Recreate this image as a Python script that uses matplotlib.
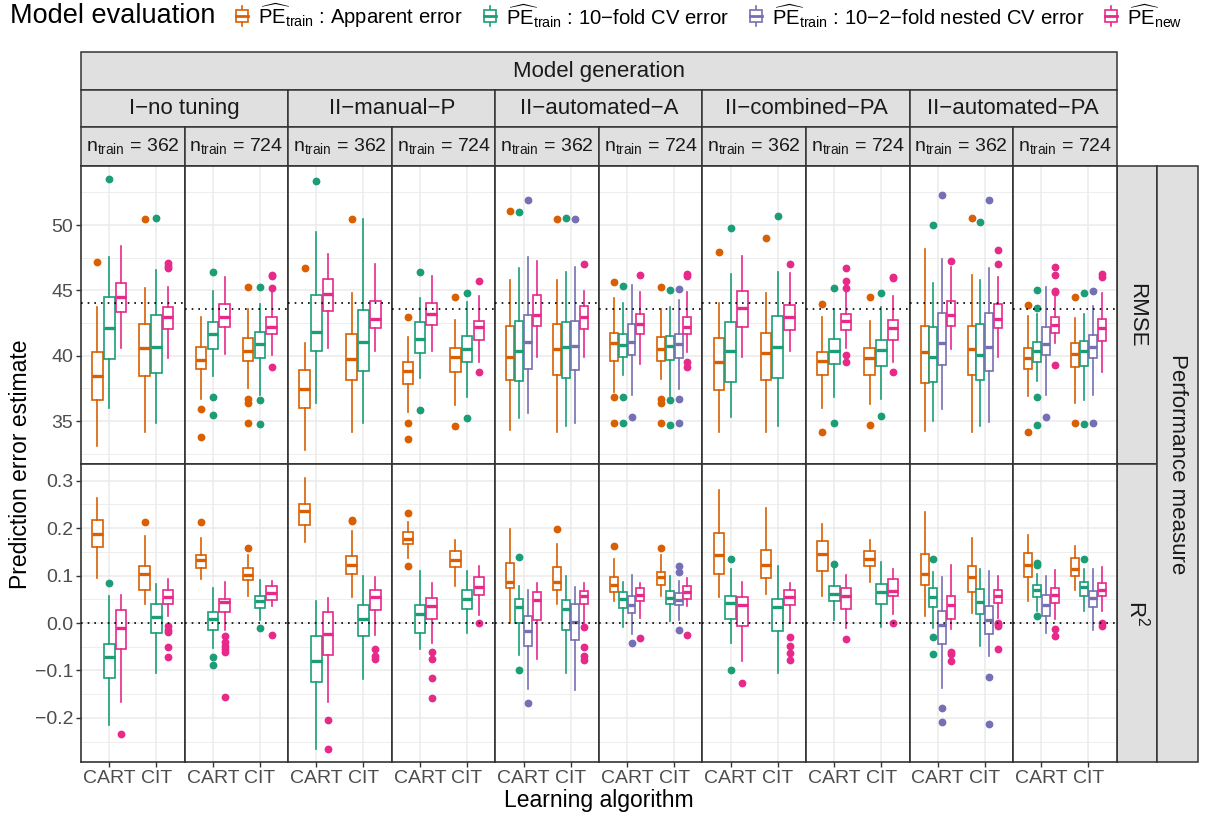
import matplotlib
matplotlib.use("Agg")
import matplotlib.pyplot as plt
from matplotlib.patches import Rectangle
from matplotlib.lines import Line2D

plt.rcParams["font.family"] = ["Liberation Sans", "DejaVu Sans"]
plt.rcParams["mathtext.fontset"] = "custom"
plt.rcParams["mathtext.rm"] = "Liberation Sans"
plt.rcParams["mathtext.it"] = "Liberation Sans:italic"
plt.rcParams["mathtext.bf"] = "Liberation Sans:bold"

# ---------------------------------------------------------------- data
MODELS = ["I\u2212no tuning", "II\u2212manual\u2212P", "II\u2212automated\u2212A",
          "II\u2212combined\u2212PA", "II\u2212automated\u2212PA"]
MODEL_KEYS = ["notune", "manual_p", "auto_a", "comb_pa", "auto_pa"]
N_TRAIN = [362, 724]
ALGORITHMS = ["CART", "CIT"]
EVAL_KEYS = ["apparent", "cv", "nested", "new"]
PE_TRAIN = "$\\widehat{\\mathrm{PE}}_{\\mathrm{train}}$"
EVAL_LABELS = [
    PE_TRAIN + " : Apparent error",
    PE_TRAIN + " : 10\u2212fold CV error",
    PE_TRAIN + " : 10\u22122\u2212fold nested CV error",
    "$\\widehat{\\mathrm{PE}}_{\\mathrm{new}}$",
]
EVAL_COLORS = ["#D95F02", "#1B9E77", "#7570B3", "#E7298A"]
MODEL_EVALS = {
    "notune": ["apparent", "cv", "new"],
    "manual_p": ["apparent", "cv", "new"],
    "auto_a": ["apparent", "cv", "nested", "new"],
    "comb_pa": ["apparent", "cv", "new"],
    "auto_pa": ["apparent", "cv", "nested", "new"],
}
# reference (true) performance per training size
REF_RMSE = {362: 44.0, 724: 43.55}
REF_R2 = {362: 0.0, 724: 0.0}

# Box summaries: (lower whisker, Q1, median, Q3, upper whisker).
# CART boxes first, then CIT, each in the evaluation order of the model.
rmse_notune_362 = [
    (33.11, 36.61, 38.47, 40.26, 43.72), (35.97, 39.74, 42.09, 44.52, 47.53),
    (40.56, 43.32, 44.46, 45.54, 48.39),
    (34.18, 38.47, 40.56, 42.40, 45.20), (34.82, 38.65, 40.69, 43.09, 46.56),
    (39.85, 42.04, 42.93, 43.75, 45.23)]
rmse_notune_362_out = [[47.19], [53.52], [], [50.46], [50.51], [47.07, 46.86, 46.68]]

rmse_notune_724 = [
    (36.68, 38.95, 39.67, 40.64, 42.93), (38.44, 40.51, 41.66, 42.60, 44.95),
    (40.13, 42.17, 42.98, 43.93, 46.05),
    (37.50, 39.62, 40.38, 41.38, 43.57), (36.99, 39.85, 40.89, 41.81, 43.95),
    (40.05, 41.66, 42.22, 42.98, 44.85)]
rmse_notune_724_out = [[35.92, 33.78], [46.38, 36.84, 35.48], [],
                       [45.28, 36.68, 36.35, 34.85], [45.23, 36.61, 34.74],
                       [46.17, 46.12, 45.15, 39.16]]

rmse_manual_p_362 = [
    (32.78, 35.97, 37.47, 38.90, 40.99), (36.35, 40.38, 41.81, 44.62, 49.49),
    (40.61, 43.42, 44.69, 45.87, 47.76),
    (34.18, 38.14, 39.72, 41.63, 44.77), (34.82, 38.83, 41.07, 43.49, 50.43),
    (40.38, 42.09, 42.81, 44.18, 46.99)]
rmse_manual_p_362_out = [[46.73], [53.39], [], [50.43], [], []]

rmse_manual_p_724 = [
    (35.71, 37.83, 38.80, 39.52, 41.45), (38.32, 40.23, 41.30, 42.60, 44.44),
    (40.38, 42.37, 43.19, 44.00, 46.12),
    (36.22, 38.75, 39.87, 40.61, 42.70), (36.81, 39.52, 40.54, 41.53, 44.08),
    (39.49, 41.17, 42.17, 42.65, 44.59)]
rmse_manual_p_724_out = [[42.98, 34.87, 33.65], [46.38, 35.82], [],
                         [44.46, 34.64], [44.82, 35.26], [45.71, 38.75]]

rmse_auto_a_362 = [
    (34.31, 38.14, 39.92, 42.27, 45.79), (35.26, 38.04, 40.36, 42.65, 46.73),
    (35.59, 38.95, 41.05, 43.11, 47.53), (39.92, 42.30, 43.09, 44.64, 47.24),
    (34.18, 38.49, 40.54, 42.45, 45.79), (34.64, 38.27, 40.64, 42.55, 46.43),
    (34.87, 38.90, 40.74, 42.68, 46.81), (39.92, 42.04, 42.98, 43.83, 44.95)]
rmse_auto_a_362_out = [[51.10], [51.02], [51.94], [],
                       [50.46], [50.51], [50.46], [46.99]]

rmse_auto_a_724 = [
    (37.20, 39.62, 40.94, 41.71, 44.39), (38.49, 39.92, 40.82, 41.68, 44.06),
    (36.99, 40.05, 41.02, 42.45, 45.41), (39.36, 41.66, 42.40, 43.21, 44.85),
    (38.19, 39.62, 40.54, 41.40, 43.57), (36.91, 39.67, 40.74, 41.53, 43.70),
    (37.42, 39.85, 40.87, 41.68, 44.26), (40.31, 41.68, 42.17, 42.98, 44.85)]
rmse_auto_a_724_out = [[45.66, 36.86, 34.87], [45.36, 36.81, 34.82], [35.33], [46.17],
                       [45.28, 36.68, 36.35, 34.85], [45.03, 36.61, 34.69],
                       [45.10, 36.66, 34.85], [46.22, 46.10, 39.54, 39.16]]

rmse_comb_pa_362 = [
    (34.13, 37.37, 39.49, 41.33, 44.01), (35.33, 38.01, 40.36, 42.55, 46.25),
    (39.92, 42.22, 43.62, 44.95, 47.65),
    (34.18, 38.11, 40.23, 41.76, 44.77), (34.64, 38.27, 40.64, 43.04, 46.43),
    (40.38, 41.96, 42.93, 43.85, 46.30)]
rmse_comb_pa_362_out = [[47.96], [49.80], [], [48.98], [50.69], [47.02]]

rmse_comb_pa_724 = [
    (35.97, 38.49, 39.59, 40.28, 42.98), (36.81, 39.36, 40.36, 41.30, 43.57),
    (40.56, 41.96, 42.65, 43.16, 44.95),
    (36.28, 38.52, 39.85, 40.61, 42.68), (36.66, 39.23, 40.43, 41.17, 43.75),
    (39.49, 41.17, 42.14, 42.70, 44.54)]
rmse_comb_pa_724_out = [[43.98, 34.18], [45.15, 34.82], [46.68, 45.71, 45.20, 40.05, 39.54],
                        [44.46, 34.69], [44.82, 35.41], [46.05, 45.92, 38.75]]

rmse_auto_pa_362 = [
    (34.26, 37.88, 40.31, 42.30, 48.14), (35.00, 37.96, 39.92, 42.17, 45.54),
    (35.89, 39.26, 40.99, 43.24, 47.37), (40.48, 42.30, 43.11, 44.21, 46.81),
    (34.18, 38.52, 40.48, 42.30, 46.17), (34.64, 38.14, 40.05, 42.40, 45.79),
    (34.95, 38.83, 40.64, 43.29, 46.68), (39.87, 42.09, 42.81, 43.93, 46.05)]
rmse_auto_pa_362_out = [[], [50.00], [52.30], [47.24],
                        [50.51], [50.26], [51.91], [48.09, 46.99]]

rmse_auto_pa_724 = [
    (36.91, 38.95, 39.80, 40.61, 43.04), (38.06, 39.52, 40.36, 41.07, 43.19),
    (36.99, 40.05, 40.89, 42.22, 45.28), (40.94, 41.71, 42.35, 42.98, 44.51),
    (36.35, 39.10, 40.10, 40.99, 42.91), (36.61, 39.23, 40.36, 41.12, 43.16),
    (36.99, 39.80, 40.69, 41.58, 43.83), (38.78, 41.12, 42.09, 42.78, 44.82)]
rmse_auto_pa_724_out = [[43.88, 34.18], [45.03, 43.62, 36.81, 34.69], [35.28],
                        [46.76, 46.17, 44.97, 44.90, 39.31],
                        [44.46, 34.87], [44.82, 34.74], [44.95, 34.82], [46.25, 46.05]]

r2_notune_362 = [
    (0.094, 0.161, 0.187, 0.217, 0.263), (-0.215, -0.115, -0.072, -0.045, 0.058),
    (-0.167, -0.054, -0.011, 0.028, 0.060),
    (0.040, 0.070, 0.104, 0.120, 0.183), (-0.106, -0.021, 0.013, 0.041, 0.082),
    (0.015, 0.040, 0.054, 0.069, 0.093)]
r2_notune_362_out = [[], [0.084], [-0.234], [0.213], [],
                     [-0.007, -0.014, -0.019, -0.051, -0.072]]

r2_notune_724 = [
    (0.093, 0.115, 0.132, 0.144, 0.180), (-0.053, -0.014, 0.009, 0.023, 0.074),
    (-0.015, 0.023, 0.044, 0.051, 0.087),
    (0.058, 0.090, 0.102, 0.115, 0.143), (0.007, 0.031, 0.046, 0.058, 0.090),
    (0.035, 0.049, 0.063, 0.077, 0.088)]
r2_notune_724_out = [[0.213], [-0.072, -0.088],
                     [-0.028, -0.039, -0.048, -0.054, -0.061, -0.157],
                     [0.158], [-0.011], [-0.025]]

r2_manual_p_362 = [
    (0.170, 0.206, 0.236, 0.252, 0.306), (-0.265, -0.125, -0.080, -0.028, 0.047),
    (-0.167, -0.067, -0.023, 0.023, 0.053),
    (0.054, 0.104, 0.123, 0.142, 0.194), (-0.118, -0.027, 0.008, 0.039, 0.100),
    (-0.026, 0.027, 0.054, 0.070, 0.096)]
r2_manual_p_362_out = [[], [], [-0.204, -0.265], [0.215, 0.218], [],
                       [-0.054, -0.070, -0.075]]

r2_manual_p_724 = [
    (0.137, 0.167, 0.178, 0.192, 0.213), (-0.054, -0.022, 0.019, 0.037, 0.109),
    (-0.042, 0.008, 0.035, 0.053, 0.085),
    (0.079, 0.118, 0.133, 0.151, 0.176), (-0.021, 0.030, 0.051, 0.070, 0.109),
    (0.016, 0.059, 0.075, 0.096, 0.120)]
r2_manual_p_724_out = [[0.231, 0.120], [], [-0.061, -0.075, -0.116, -0.158],
                       [], [], [-0.001]]

r2_auto_a_362 = [
    (0.001, 0.073, 0.086, 0.127, 0.199), (-0.067, -0.001, 0.033, 0.051, 0.079),
    (-0.139, -0.048, -0.016, 0.014, 0.070), (-0.075, 0.007, 0.049, 0.065, 0.085),
    (0.040, 0.070, 0.086, 0.118, 0.167), (-0.106, -0.014, 0.030, 0.049, 0.100),
    (-0.141, -0.035, 0.002, 0.041, 0.076), (-0.002, 0.040, 0.056, 0.068, 0.085)]
r2_auto_a_362_out = [[], [0.139, -0.099], [-0.168], [],
                     [0.199], [], [], [-0.008, -0.051, -0.070, -0.077]]

r2_auto_a_724 = [
    (0.046, 0.065, 0.080, 0.097, 0.135), (-0.008, 0.032, 0.051, 0.065, 0.087),
    (-0.023, 0.021, 0.037, 0.056, 0.101), (0.011, 0.046, 0.060, 0.074, 0.085),
    (0.058, 0.081, 0.096, 0.108, 0.144), (0.004, 0.041, 0.053, 0.068, 0.100),
    (0.007, 0.037, 0.049, 0.063, 0.088), (0.035, 0.051, 0.065, 0.077, 0.094)]
r2_auto_a_724_out = [[0.162], [], [-0.042], [-0.032],
                     [0.158], [], [0.120, 0.107, -0.015], [-0.025]]

r2_comb_pa_362 = [
    (0.054, 0.104, 0.144, 0.189, 0.280), (-0.042, 0.009, 0.042, 0.058, 0.113),
    (-0.081, -0.007, 0.039, 0.054, 0.086),
    (0.062, 0.095, 0.122, 0.155, 0.243), (-0.106, -0.016, 0.033, 0.051, 0.121),
    (0.000, 0.037, 0.054, 0.069, 0.085)]
r2_comb_pa_362_out = [[], [0.136, -0.099], [-0.127], [], [],
                      [-0.030, -0.048, -0.063, -0.077]]

r2_comb_pa_724 = [
    (0.058, 0.109, 0.146, 0.173, 0.208), (0.007, 0.047, 0.061, 0.079, 0.116),
    (-0.010, 0.030, 0.058, 0.074, 0.102),
    (0.086, 0.120, 0.134, 0.151, 0.176), (-0.008, 0.041, 0.065, 0.083, 0.128),
    (0.018, 0.056, 0.068, 0.093, 0.113)]
r2_comb_pa_724_out = [[], [0.125], [-0.034], [], [], [0.000]]

r2_auto_pa_362 = [
    (0.014, 0.081, 0.104, 0.146, 0.235), (-0.011, 0.034, 0.054, 0.074, 0.108),
    (-0.137, -0.044, -0.005, 0.025, 0.097), (-0.013, 0.009, 0.037, 0.058, 0.122),
    (0.021, 0.065, 0.096, 0.120, 0.180), (-0.049, 0.018, 0.044, 0.072, 0.114),
    (-0.069, -0.023, 0.006, 0.035, 0.109), (0.010, 0.042, 0.056, 0.069, 0.100)]
r2_auto_pa_362_out = [[], [0.136, -0.030, -0.065], [-0.180, -0.209],
                      [-0.062, -0.065, -0.080],
                      [], [], [-0.114, -0.213], [0.000, -0.003, -0.006, -0.054]]

r2_auto_pa_724 = [
    (0.046, 0.096, 0.123, 0.148, 0.185), (0.025, 0.055, 0.069, 0.080, 0.104),
    (-0.021, 0.014, 0.037, 0.060, 0.100), (0.008, 0.042, 0.060, 0.074, 0.111),
    (0.069, 0.099, 0.113, 0.137, 0.162), (0.025, 0.056, 0.076, 0.087, 0.114),
    (-0.015, 0.033, 0.053, 0.068, 0.113), (0.025, 0.056, 0.070, 0.085, 0.118)]
r2_auto_pa_724_out = [[], [0.127, 0.122, 0.014], [], [-0.013, -0.028],
                      [], [0.134], [], [0.000, -0.006]]

MEASURES = ["rmse", "r2"]
MEASURE_LABELS = ["RMSE", "R$^{2}$"]
Y_TICKS = {"rmse": [35, 40, 45, 50],
           "r2": [-0.2, -0.1, 0.0, 0.1, 0.2, 0.3]}
Y_MINOR = {"rmse": [32.5, 37.5, 42.5, 47.5, 52.5],
           "r2": [-0.25, -0.15, -0.05, 0.05, 0.15, 0.25]}
Y_LIMS = {"rmse": (31.71, 54.54), "r2": (-0.2937, 0.3353)}
REF_LINES = {"rmse": REF_RMSE, "r2": REF_R2}


def box_data(measure, model, n):
    g = globals()
    return g[f"{measure}_{model}_{n}"], g[f"{measure}_{model}_{n}_out"]


def fmt_tick(v, measure):
    if measure == "rmse":
        return f"{v:.0f}"
    return f"{v:.1f}".replace("-", "\u2212")


# ---------------------------------------------------------------- layout (pixels)
W, H = 1206, 819
PX0, PX1 = 81.0, 1116.7
PW = (PX1 - PX0) / 10
ROWS = [(165.7, 464.0), (464.0, 762.3)]
STRIP_ROWS = [(52.3, 90.0), (90.0, 127.3), (127.3, 165.7)]
RSTRIP = [(1116.7, 1157.3), (1157.3, 1198.3)]

GRID = "#EBEBEB"
FRAME = "#333333"
STRIP_FILL = "#E0E0E0"
TXT = "#1A1A1A"
TICK_TXT = "#4D4D4D"

fig = plt.figure(figsize=(W / 100, H / 100), dpi=100)

canvas = fig.add_axes([0, 0, 1, 1])
canvas.set_xlim(0, W)
canvas.set_ylim(H, 0)
canvas.axis("off")


def px_axes(x0, y0, x1, y1):
    return fig.add_axes([x0 / W, 1 - y1 / H, (x1 - x0) / W, (y1 - y0) / H])


def strip(x0, y0, x1, y1, text, size, rotation=0):
    canvas.add_patch(Rectangle((x0, y0), x1 - x0, y1 - y0, facecolor=STRIP_FILL,
                               edgecolor=FRAME, linewidth=1.1))
    canvas.text((x0 + x1) / 2, (y0 + y1) / 2, text, ha="center", va="center",
                fontsize=size, color=TXT, rotation=rotation)


# facet strips on top
strip(PX0, STRIP_ROWS[0][0], PX1, STRIP_ROWS[0][1], "Model generation", 16)
for m, name in enumerate(MODELS):
    strip(PX0 + 2 * m * PW, STRIP_ROWS[1][0], PX0 + (2 * m + 2) * PW, STRIP_ROWS[1][1],
          name, 16)
    for j, n in enumerate(N_TRAIN):
        c = 2 * m + j
        strip(PX0 + c * PW, STRIP_ROWS[2][0], PX0 + (c + 1) * PW, STRIP_ROWS[2][1],
              "$\\mathrm{n}_{\\mathrm{train}}$ = " + str(n), 14)

# facet strips on the right
for r, lab in enumerate(MEASURE_LABELS):
    strip(RSTRIP[0][0], ROWS[r][0], RSTRIP[0][1], ROWS[r][1], lab, 16, rotation=-90)
strip(RSTRIP[1][0], ROWS[0][0], RSTRIP[1][1], ROWS[1][1], "Performance measure", 16,
      rotation=-90)

# panels
for r, measure in enumerate(MEASURES):
    y0, y1 = ROWS[r]
    for m, model in enumerate(MODEL_KEYS):
        evals = MODEL_EVALS[model]
        k = len(evals)
        slot = 0.75 / k
        for j, n in enumerate(N_TRAIN):
            c = 2 * m + j
            ax = px_axes(PX0 + c * PW, y0, PX0 + (c + 1) * PW, y1)
            ax.set_facecolor("white")
            stats, outs = box_data(measure, model, n)
            for a in range(len(ALGORITHMS)):
                for e, ev in enumerate(evals):
                    idx = a * k + e
                    lo, q1, med, q3, hi = stats[idx]
                    col = EVAL_COLORS[EVAL_KEYS.index(ev)]
                    pos = (a + 1) - 0.375 + slot * (e + 0.5)
                    ax.bxp([dict(whislo=lo, q1=q1, med=med, q3=q3, whishi=hi,
                                 fliers=outs[idx])],
                           positions=[pos], widths=slot * 0.9, patch_artist=True,
                           showcaps=False, showfliers=True, manage_ticks=False,
                           boxprops=dict(facecolor="white", edgecolor=col, linewidth=1.2),
                           whiskerprops=dict(color=col, linewidth=1.2),
                           medianprops=dict(color=col, linewidth=2.4, solid_capstyle="butt"),
                           flierprops=dict(marker="o", markerfacecolor=col,
                                           markeredgecolor=col, markersize=4.6,
                                           linestyle="none"))
            ax.axhline(REF_LINES[measure][n], color="black", linewidth=1.2,
                       linestyle=(0, (1, 3)), zorder=5)
            ax.set_xlim(0.4, 2.6)
            ax.set_ylim(*Y_LIMS[measure])
            ax.set_xticks([1, 2])
            ax.set_yticks(Y_TICKS[measure])
            ax.set_yticks(Y_MINOR[measure], minor=True)
            ax.grid(which="major", color=GRID, linewidth=1.1)
            ax.grid(which="minor", axis="y", color=GRID, linewidth=0.6)
            ax.set_axisbelow(True)
            for sp in ax.spines.values():
                sp.set_color(FRAME)
                sp.set_linewidth(1.2)
            ax.tick_params(which="minor", length=0)
            ax.tick_params(which="major", color=FRAME, width=1.0, length=3.5,
                           labelcolor=TICK_TXT, labelsize=14, pad=2)
            if c == 0:
                ax.set_yticklabels([fmt_tick(v, measure) for v in Y_TICKS[measure]])
            else:
                ax.tick_params(axis="y", length=0, labelleft=False)
            if r == 1:
                ax.set_xticklabels(ALGORITHMS)
            else:
                ax.tick_params(axis="x", length=0, labelbottom=False)

# axis titles
canvas.text((PX0 + PX1) / 2, 801, "Learning algorithm", ha="center", va="center",
            fontsize=16.5, color="black")
canvas.text(21, (ROWS[0][0] + ROWS[1][1]) / 2, "Prediction error estimate", ha="center",
            va="center", rotation=90, fontsize=16.5, color="black")

# legend across the top, laid out left to right
renderer = fig.canvas.get_renderer()
LY = 16
title = canvas.text(10, LY, "Model evaluation", ha="left", va="center", fontsize=19.5,
                    color="black")
x_end = title.get_window_extent(renderer).x1
for lab, col in zip(EVAL_LABELS, EVAL_COLORS):
    kx = x_end + 27
    canvas.add_line(Line2D([kx, kx], [LY - 10, LY + 10], color=col, linewidth=1.2))
    canvas.add_patch(Rectangle((kx - 6, LY - 6), 12, 12, facecolor="white",
                               edgecolor=col, linewidth=1.2, zorder=3))
    canvas.add_line(Line2D([kx - 6, kx + 6], [LY, LY], color=col, linewidth=2.0,
                           zorder=4))
    t = canvas.text(kx + 16, LY, lab, ha="left", va="center", fontsize=14.6, color="black")
    x_end = t.get_window_extent(renderer).x1

fig.savefig("out.png", dpi=100)
